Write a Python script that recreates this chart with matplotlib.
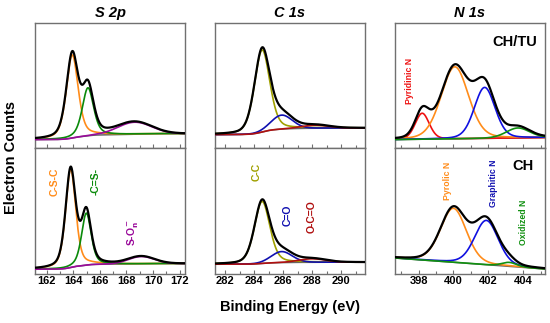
import numpy as np
import matplotlib
matplotlib.use("Agg")
import matplotlib.pyplot as plt
from matplotlib.ticker import MultipleLocator

plt.rcParams['font.family'] = ['Liberation Sans', 'DejaVu Sans']

W, H = 550, 323
fig = plt.figure(figsize=(W / 100, H / 100), dpi=100)

# ---- data (peak fits; heights in arbitrary counts) ----
titles = ["S 2p", "C 1s", "N 1s"]
samples = ["CH/TU", "CH"]
xlims = [(161.12, 172.4), (281.3, 291.65), (396.65, 405.25)]

# each peak: center (eV), height, FWHM (eV), Lorentzian fraction
S2p_CHTU_centers = [163.92, 165.10, 168.60]
S2p_CHTU_heights = [83.0, 48.0, 12.0]
S2p_CHTU_fwhm = [1.05, 1.00, 3.0]
S2p_CHTU_eta = [0.45, 0.45, 0.0]
S2p_CH_centers = [163.80, 164.98, 169.10]
S2p_CH_heights = [98.0, 52.0, 7.3]
S2p_CH_fwhm = [0.90, 0.85, 2.3]
S2p_CH_eta = [0.45, 0.45, 0.0]
S2p_colors = ["#FF8C1A", "#0A8A0A", "#9A0A9A"]
S2p_bg = [(8.4, 14.4), (4.3, 10.0)]

C1s_CHTU_centers = [284.55, 285.90, 288.20]
C1s_CHTU_heights = [82.0, 14.0, 3.0]
C1s_CHTU_fwhm = [1.25, 1.70, 2.2]
C1s_CH_centers = [284.55, 285.90, 288.00]
C1s_CH_heights = [62.0, 11.0, 3.5]
C1s_CH_fwhm = [1.25, 1.70, 2.2]
C1s_eta = [0.32, 0.1, 0.0]
C1s_colors = ["#A0A000", "#1010B0", "#B01010"]
C1s_bg = [(13.4, 20.0), (9.3, 11.3)]

N1s_CHTU_centers = [398.21, 400.08, 401.79, 403.70]
N1s_CHTU_heights = [26.0, 72.0, 51.0, 10.0]
N1s_CHTU_fwhm = [0.95, 1.85, 1.40, 1.60]
N1s_CHTU_eta = [0.2, 0.2, 0.2, 0.2]
N1s_CHTU_colors = ["#EE1111", "#FF8C1A", "#1010E0", "#109010"]
N1s_CH_centers = [400.00, 401.89, 403.20]
N1s_CH_heights = [54.0, 44.3, 4.0]
N1s_CH_fwhm = [1.75, 1.60, 1.00]
N1s_CH_eta = [0.2, 0.2, 0.2]
N1s_CH_colors = ["#FF8C1A", "#1010E0", "#109010"]
N1s_bg = [(8.4, 10.4), (15.5, 4.5)]


def pv(x, c, h, w, e):
    g = np.exp(-4 * np.log(2) * ((x - c) / w) ** 2)
    l = 1.0 / (1 + (2 * (x - c) / w) ** 2)
    return h * ((1 - e) * g + e * l)


panels = {
    (0, 0): (S2p_CHTU_centers, S2p_CHTU_heights, S2p_CHTU_fwhm, S2p_CHTU_eta, S2p_colors, S2p_bg[0], "shirley"),
    (0, 1): (S2p_CH_centers, S2p_CH_heights, S2p_CH_fwhm, S2p_CH_eta, S2p_colors, S2p_bg[1], "shirley"),
    (1, 0): (C1s_CHTU_centers, C1s_CHTU_heights, C1s_CHTU_fwhm, C1s_eta, C1s_colors, C1s_bg[0], "shirley"),
    (1, 1): (C1s_CH_centers, C1s_CH_heights, C1s_CH_fwhm, C1s_eta, C1s_colors, C1s_bg[1], "shirley"),
    (2, 0): (N1s_CHTU_centers, N1s_CHTU_heights, N1s_CHTU_fwhm, N1s_CHTU_eta, N1s_CHTU_colors, N1s_bg[0], "linear"),
    (2, 1): (N1s_CH_centers, N1s_CH_heights, N1s_CH_fwhm, N1s_CH_eta, N1s_CH_colors, N1s_bg[1], "linear"),
}

lefts = [35, 215, 395]
pw = 150
tops = [23, 148]
ph = [125, 125.5]
spine_c = "#707070"

for col in range(3):
    for row in range(2):
        t = tops[row]
        hgt = ph[row]
        ax = fig.add_axes([lefts[col] / W, (H - t - hgt) / H, pw / W, hgt / H])
        cs, hs, ws, es, cols, (b0, b1), kind = panels[(col, row)]
        x0, x1 = xlims[col]
        x = np.linspace(x0, x1, 800)
        comps = [pv(x, c, h, w, e) for c, h, w, e in zip(cs, hs, ws, es)]
        tot = np.sum(comps, axis=0)
        if kind == "shirley":
            cum = np.cumsum(tot)
            bg = b0 + (b1 - b0) * cum / cum[-1]
        else:
            bg = b0 + (b1 - b0) * (x - x0) / (x1 - x0)
        ax.plot(x, bg, color="#666666", lw=1.1, zorder=2)
        for comp, cc in zip(comps, cols):
            ax.plot(x, comp + bg, color=cc, lw=1.2, zorder=3)
        ax.plot(x, tot + bg, color="black", lw=1.6, zorder=4)
        ax.set_xlim(x0, x1)
        ax.set_ylim(0, hgt)
        ax.set_yticks([])
        ax.xaxis.set_major_locator(MultipleLocator(2))
        ax.xaxis.set_minor_locator(MultipleLocator(1))
        ax.tick_params(axis='x', which='both', direction='in', color=spine_c,
                       labelsize=8, pad=2, top=False)
        ax.tick_params(axis='x', which='major', length=3, width=0.8)
        ax.tick_params(axis='x', which='minor', length=2.5, width=0.8)
        for lab in ax.get_xticklabels():
            lab.set_fontweight('bold')
        if row == 0:
            ax.set_xticklabels([])
        for s in ax.spines.values():
            s.set_color(spine_c)
            s.set_linewidth(1.0)

# titles
for col, ttl in enumerate(titles):
    fig.text((lefts[col] + pw / 2) / W, 1 - 13 / H, ttl, ha='center', va='center',
             fontsize=10.5, fontweight='bold', fontstyle='italic')

# sample labels
fig.text(537 / W, 1 - 42 / H, samples[0], ha='right', va='center', fontsize=10.5, fontweight='bold')
fig.text(534 / W, 1 - 166 / H, samples[1], ha='right', va='center', fontsize=10.5, fontweight='bold')


def lab(px, py, s, c, fs=7.5, fw='bold'):
    fig.text(px / W, 1 - py / H, s, ha='center', va='center', rotation=90,
             color=c, fontsize=fs, fontweight=fw)


lab(55, 182, "C-S-C", "#FF8C1A")
lab(96, 182, "-C=S-", "#0A8A0A")
lab(133, 232, r"S-O$_\mathbf{n}^{\,\mathbf{-}}$", "#9A0A9A")
lab(257, 172, "C-C", "#A0A000")
lab(288, 215, "C=O", "#1010B0")
lab(312, 217, "O-C=O", "#B01010")
lab(410, 81, "Pyridinic N", "#EE1111", 6.3)
lab(447, 181, "Pyrolic N", "#FF8C1A", 6.3)
lab(493, 183, "Graphitic N", "#1010B0", 6.3)
lab(523, 222, "Oxidized N", "#109010", 6.3)

fig.text(11 / W, 1 - 157 / H, "Electron Counts", rotation=90, ha='center', va='center',
         fontsize=10.5, fontweight='bold')
fig.text(290 / W, 1 - 307 / H, "Binding Energy (eV)", ha='center', va='center',
         fontsize=10.5, fontweight='bold')

fig.savefig("out.png", dpi=100)
